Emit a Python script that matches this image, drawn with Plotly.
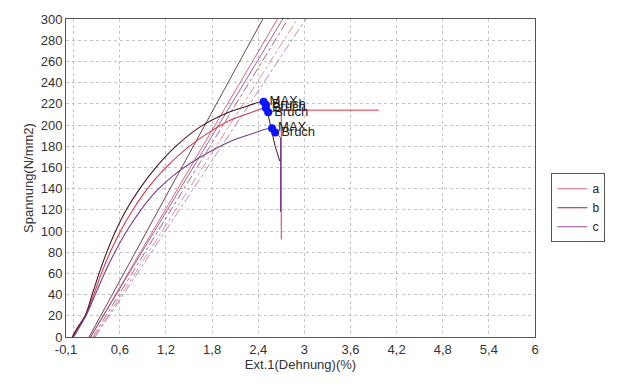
import plotly.graph_objects as go

# ---- data ----
strain_a = [-0.01, 0.07, 0.15, 0.26, 0.36, 0.475, 0.61, 0.77, 0.96, 1.20, 1.47, 1.78, 2.05, 2.28, 2.50, 2.53]
stress_a = [0, 10, 20, 40, 60, 80, 100, 120, 140, 160, 178, 194, 205, 211, 216, 212]
strain_b = [-0.02, 0.06, 0.15, 0.24, 0.33, 0.43, 0.545, 0.685, 0.86, 1.07, 1.33, 1.64, 1.95, 2.22, 2.47, 2.50]
stress_b = [0, 10, 20, 40, 60, 80, 100, 120, 140, 160, 180, 198, 210, 217, 222, 219]
strain_c = [0.0, 0.08, 0.16, 0.28, 0.40, 0.535, 0.69, 0.875, 1.08, 1.36, 1.70, 2.05, 2.33, 2.58, 2.62]
stress_c = [0, 10, 20, 40, 60, 80, 100, 120, 138, 156, 172, 185, 192, 197, 193]

# post-break segments
tail_a_x = [2.53, 2.70, 3.97, None, 2.70, 2.70]
tail_a_y = [212, 214, 214, None, 214, 92]
tail_b_x = [2.50, 2.62, 2.68]
tail_b_y = [219, 180, 166]
tail_c_x = [2.62, 2.69, 2.69]
tail_c_y = [193, 188, 118]

# straight (offset) lines: strain at 0 stress, strain at 300 stress
solid_lines = {"a": (0.22, 2.65), "b": (0.20, 2.46), "c": (0.22, 2.72)}
dash_lines = {"a": (0.27, 2.91), "b": (0.25, 2.79), "c": (0.28, 3.02)}
line_top = 300

# MAX / Bruch points
pt_x = [2.47, 2.50, 2.50, 2.53, 2.58, 2.62]
pt_y = [222, 219, 216, 212, 197, 193]
pt_text = ["MAX", "Bruch", "Bruch", "Bruch", "MAX", "Bruch"]

x_tickvals = [-0.1, 0, 0.6, 1.2, 1.8, 2.4, 3.0, 3.6, 4.2, 4.8, 5.4, 6.0]
x_ticktext = ["-0,1", "", "0,6", "1,2", "1,8", "2,4", "3", "3,6", "4,2", "4,8", "5,4", "6"]
y_tickvals = list(range(0, 301, 20))

colors = {"a": "#d8384c", "b": "#4a1620", "c": "#7c3a8c"}
light = {"a": "#e07080", "b": "#a04050", "c": "#a070b0"}
legend_colors = {"a": "#e0607a", "b": "#8a2a3a", "c": "#9a4a9a"}

fig = go.Figure()

for k in ["a", "b", "c"]:
    x0, x1 = solid_lines[k]
    fig.add_trace(go.Scatter(x=[x0, x1], y=[0, line_top], mode="lines",
                             line=dict(color=colors[k], width=0.8), showlegend=False,
                             hoverinfo="skip"))
    x0, x1 = dash_lines[k]
    fig.add_trace(go.Scatter(x=[x0, x1], y=[0, line_top], mode="lines",
                             line=dict(color=light[k], width=0.8, dash="dashdot"),
                             showlegend=False, hoverinfo="skip"))

for tx, ty, k in [(tail_a_x, tail_a_y, "a"), (tail_b_x, tail_b_y, "b"), (tail_c_x, tail_c_y, "c")]:
    fig.add_trace(go.Scatter(x=tx, y=ty, mode="lines",
                             line=dict(color=colors[k], width=1), showlegend=False))

for sx, sy, k in [(strain_a, stress_a, "a"), (strain_b, stress_b, "b"), (strain_c, stress_c, "c")]:
    fig.add_trace(go.Scatter(x=sx, y=sy, mode="lines", showlegend=False,
                             line=dict(color=colors[k], width=1.1, shape="spline", smoothing=0.8)))

# legend entries
for k in ["a", "b", "c"]:
    fig.add_trace(go.Scatter(x=[None], y=[None], mode="lines", name=k,
                             line=dict(color=legend_colors[k], width=1.2)))

fig.add_trace(go.Scatter(x=pt_x, y=pt_y, mode="markers+text", text=pt_text,
                         textposition="middle right",
                         textfont=dict(family="Liberation Sans, Arial", size=13, color="#222"),
                         marker=dict(color="#0a14ff", size=8), showlegend=False))

axis_font = dict(family="Liberation Sans, Arial", size=13, color="#333")
fig.update_layout(
    width=630, height=386,
    margin=dict(l=66, r=95, t=12, b=49),
    paper_bgcolor="white", plot_bgcolor="white",
    font=axis_font,
    legend=dict(x=1.035, y=0.515, xanchor="left", yanchor="top",
                bordercolor="#555", borderwidth=1, font=dict(size=12, color="#222"),
                tracegroupgap=0, itemwidth=30),
    xaxis=dict(range=[-0.1, 6.0], tickvals=x_tickvals, ticktext=x_ticktext,
               showgrid=True, gridcolor="#c4c4c4", griddash="dot", gridwidth=1,
               showline=True, linecolor="#555", linewidth=1, mirror=True,
               zeroline=False, ticks="", tickfont=axis_font,
               title=dict(text="Ext.1(Dehnung)(%)", font=axis_font, standoff=4)),
    yaxis=dict(range=[0, 300], tickvals=y_tickvals,
               showgrid=True, gridcolor="#c4c4c4", griddash="dot", gridwidth=1,
               showline=True, linecolor="#555", linewidth=1, mirror=True,
               zeroline=False, ticks="", tickfont=axis_font,
               title=dict(text="Spannung(N/mm2)", font=axis_font, standoff=4)),
)

fig.write_html("out.html")
